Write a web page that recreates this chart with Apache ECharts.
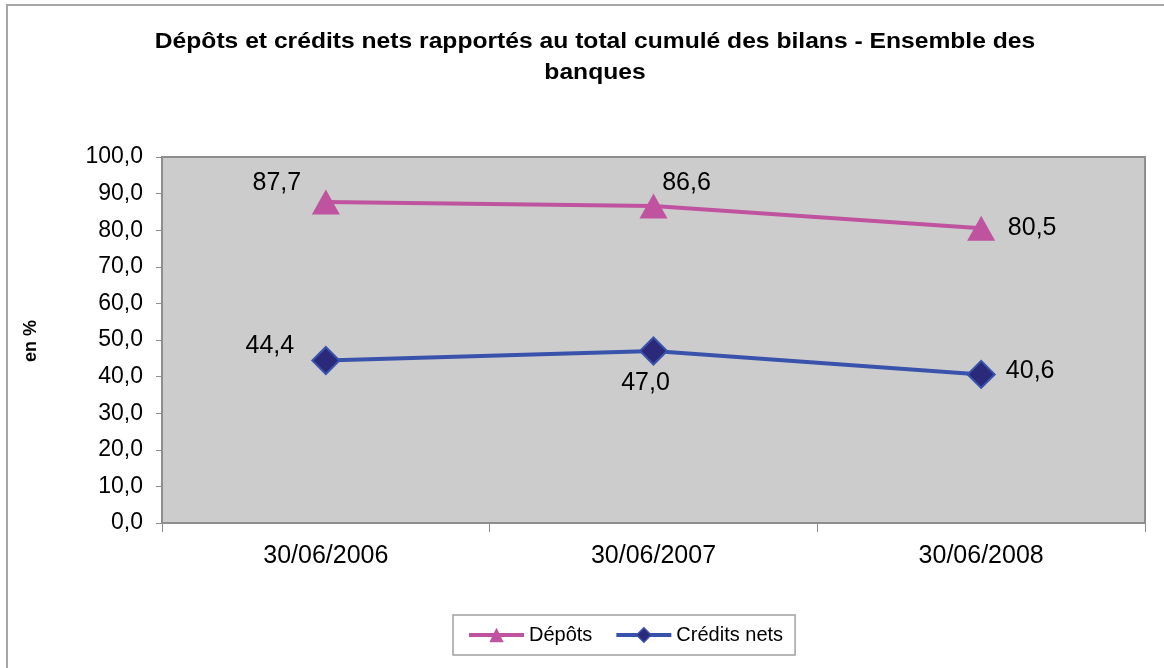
<!DOCTYPE html>
<html>
<head>
<meta charset="utf-8">
<script src="https://cdn.jsdelivr.net/npm/echarts@6/dist/echarts.min.js"></script>
<style>
html,body{margin:0;padding:0;background:#fff;}
#chart{width:1164px;height:668px;}
</style>
</head>
<body>
<div id="chart"></div>
<script>
const titleText = "Dépôts et crédits nets rapportés au total cumulé des bilans - Ensemble des\nbanques";
const yAxisTitle = "en %";
const categories = ["30/06/2006", "30/06/2007", "30/06/2008"];
const depots = [87.7, 86.6, 80.5];
const credits = [44.4, 47.0, 40.6];
const seriesNames = ["Dépôts", "Crédits nets"];
const depotsLabelOffsets = [[-49, -19], [33, -23], [51, 0]];
const creditsLabelOffsets = [[-56, -14], [-8, 32], [49, -3]];

const FONT = "'Liberation Sans', Arial, sans-serif";
const fmt = v => v.toFixed(1).replace('.', ',');
const PINK = '#c053a0';
const BLUE = '#3953ad';
const NAVY = '#2b2a7a';

function buildData(vals, offs) {
  return vals.map((v, i) => ({
    value: v,
    label: { offset: offs[i] }
  }));
}

const chart = echarts.init(document.getElementById('chart'), null, { renderer: 'canvas' });
chart.setOption({
  animation: false,
  backgroundColor: '#ffffff',
  textStyle: { fontFamily: FONT },
  graphic: [
    {
      type: 'rect', silent: true, z: -10,
      shape: { x: 7, y: 5, width: 1300, height: 800 },
      style: { fill: 'none', stroke: '#a6a6a6', lineWidth: 2 }
    },
    {
      type: 'text', x: 595, y: 26, scaleX: 1.12,
      style: {
        text: titleText, fill: '#000', font: "bold 22px " + FONT,
        align: 'center', verticalAlign: 'top', lineHeight: 31
      }
    },
    {
      type: 'text', x: 31, y: 341, rotation: Math.PI / 2,
      style: {
        text: yAxisTitle, fill: '#000', font: "bold 18px " + FONT,
        align: 'center', verticalAlign: 'middle'
      }
    }
  ],
  legend: {
    left: 453, top: 615,
    padding: [10, 12, 10, 14],
    itemGap: 22,
    itemWidth: 55,
    itemHeight: 18,
    borderColor: '#a0a0a0',
    borderWidth: 1.5,
    backgroundColor: '#fff',
    textStyle: { fontSize: 20, color: '#000', fontFamily: FONT },
    data: [
      { name: seriesNames[0], lineStyle: { width: 4, color: PINK }, itemStyle: { color: PINK } },
      { name: seriesNames[1], lineStyle: { width: 4, color: BLUE }, itemStyle: { color: NAVY, borderColor: BLUE, borderWidth: 1.5 } }
    ]
  },
  grid: {
    left: 162, right: 19, top: 157, bottom: 145,
    show: true, backgroundColor: '#cccccc',
    borderColor: '#8e8e8e', borderWidth: 2,
    containLabel: false
  },
  xAxis: {
    type: 'category',
    data: categories,
    boundaryGap: true,
    axisLine: { show: true, lineStyle: { color: '#8e8e8e', width: 2 } },
    axisTick: { show: true, alignWithLabel: false, length: 9, lineStyle: { color: '#8e8e8e', width: 1 } },
    axisLabel: { fontSize: 25, color: '#000', margin: 21, fontFamily: FONT },
    splitLine: { show: false }
  },
  yAxis: {
    type: 'value',
    min: 0, max: 100, interval: 10,
    axisLine: { show: true, lineStyle: { color: '#8e8e8e', width: 2 } },
    axisTick: { show: true, length: 6, lineStyle: { color: '#8e8e8e', width: 1 } },
    axisLabel: { fontSize: 23, color: '#000', margin: 19, fontFamily: FONT, formatter: v => fmt(v) },
    splitLine: { show: false }
  },
  series: [
    {
      name: seriesNames[0],
      type: 'line',
      data: buildData(depots, depotsLabelOffsets),
      symbol: 'triangle',
      symbolSize: [28, 25],
      showAllSymbol: true,
      lineStyle: { color: PINK, width: 4 },
      itemStyle: { color: PINK, borderColor: PINK, borderWidth: 0 },
      label: {
        show: true, position: 'inside', fontSize: 25, color: '#000',
        fontFamily: FONT, formatter: p => fmt(p.value)
      },
      z: 3
    },
    {
      name: seriesNames[1],
      type: 'line',
      data: buildData(credits, creditsLabelOffsets),
      symbol: 'diamond',
      symbolSize: [27, 27],
      showAllSymbol: true,
      lineStyle: { color: BLUE, width: 4 },
      itemStyle: { color: NAVY, borderColor: BLUE, borderWidth: 2 },
      label: {
        show: true, position: 'inside', fontSize: 25, color: '#000',
        fontFamily: FONT, formatter: p => fmt(p.value)
      },
      z: 3
    }
  ]
});
</script>
</body>
</html>
